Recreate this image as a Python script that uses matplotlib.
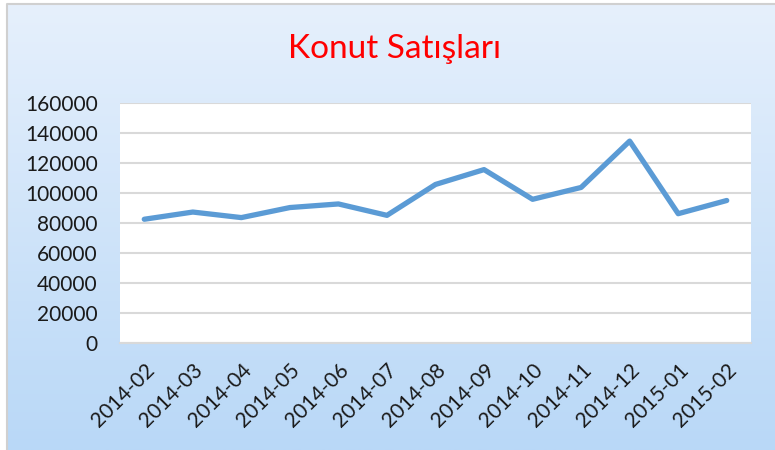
import matplotlib
matplotlib.use("Agg")
import matplotlib.pyplot as plt
import numpy as np
from matplotlib.lines import Line2D

months = ["2014-02", "2014-03", "2014-04", "2014-05", "2014-06", "2014-07",
          "2014-08", "2014-09", "2014-10", "2014-11", "2014-12", "2015-01", "2015-02"]
sales = [82500, 87300, 83600, 90300, 92700, 85100,
         105700, 115600, 95800, 103700, 134600, 86200, 95000]
yticks = [0, 20000, 40000, 60000, 80000, 100000, 120000, 140000, 160000]
title = "Konut Satışları"

W, H = 775, 450
fig = plt.figure(figsize=(W / 100, H / 100), dpi=100)
fig.patch.set_facecolor("white")

# gradient background panel
bg = fig.add_axes([7 / W, 0, (W - 7) / W, (H - 4) / H])
top = np.array([0xe6, 0xf0, 0xfc]) / 255
bot = np.array([0xb9, 0xd8, 0xf7]) / 255
t = np.linspace(0, 1, 256)[:, None]
grad = top[None, :] * (1 - t) + bot[None, :] * t
bg.imshow(grad[:, None, :], aspect="auto", extent=[0, 1, 0, 1], origin="upper")
bg.set_xlim(0, 1)
bg.set_ylim(0, 1)
bg.axis("off")
bg.add_line(Line2D([0, 0, 1.01], [0, 1, 1], color="#d0d0d0", lw=1.5,
                   transform=bg.transAxes, clip_on=False))

fig.text(395 / W, 1 - 49 / H, title, color="#ff0000", fontsize=24,
         family="Lato", ha="center", va="center")

left, right, ytop, ybot = 120, 751, 103, 343
ax = fig.add_axes([left / W, 1 - ybot / H, (right - left) / W, (ybot - ytop) / H])
ax.set_facecolor("white")
x = np.arange(len(months))
ax.plot(x, sales, color="#5b9bd5", lw=3.8, solid_capstyle="round", solid_joinstyle="round", zorder=3)
ax.set_xlim(-0.5, len(months) - 0.5)
ax.set_ylim(0, 160000)
ax.set_yticks(yticks)
ax.set_yticklabels([str(v) for v in yticks], family="Lato", fontsize=15, color="#1a1a1a")
ax.yaxis.grid(True, color="#d9d9d9", lw=1.5)
ax.set_axisbelow(True)
ax.set_xticks(x)
ax.set_xticklabels(months, rotation=45, ha="right", rotation_mode="anchor",
                   family="Lato", fontsize=15, color="#1a1a1a")
ax.tick_params(axis="both", length=0)
ax.tick_params(axis="y", pad=16)
ax.tick_params(axis="x", pad=12)
for s in ["left", "right", "top"]:
    ax.spines[s].set_visible(False)
ax.spines["bottom"].set_color("#d9d9d9")
ax.spines["bottom"].set_linewidth(1.5)

fig.savefig("out.png", dpi=100, facecolor="white")
